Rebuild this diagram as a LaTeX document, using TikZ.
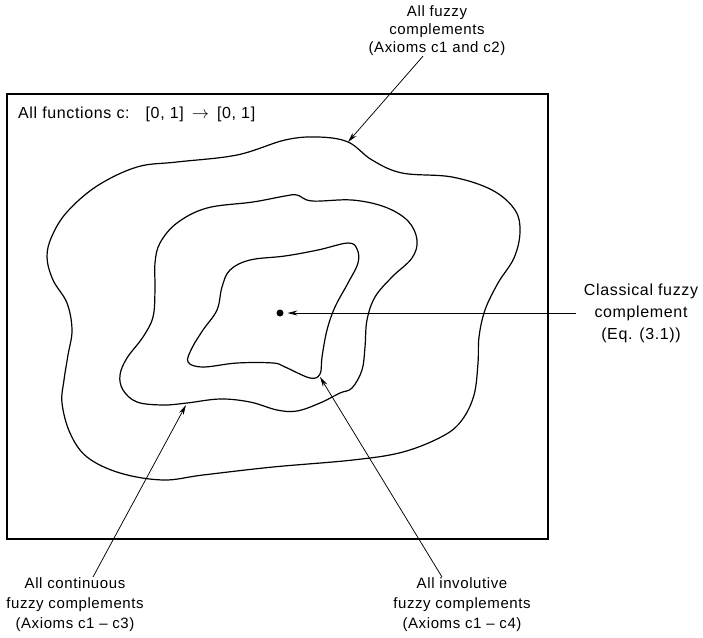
\documentclass[tikz,border=0pt]{standalone}
\usepackage{fontspec}
\setmainfont{Liberation Sans}[LetterSpace=4]
\usetikzlibrary{arrows.meta}

\begin{document}
\begin{tikzpicture}[x=1pt, y=-1pt,
		contour/.style={line width=1.2pt},
		pointer/.style={-{Stealth[length=10pt, width=5pt]}, line width=0.75pt},
		tag/.style={align=center, inner sep=0pt, font=\fontsize{15}{20}\selectfont}]
		\useasboundingbox (0,0) rectangle (703,637);
		
		% Ramka: wszystkie funkcje
		\draw[line width=1.1pt] (7,94) rectangle (548,539);
		\node[tag, anchor=west, font=\fontsize{16}{20}\selectfont] (functions) at (18,114) {All functions c:\quad[0, 1]\enspace$\rightarrow$\enspace[0, 1]};
		
		% Kontur zewnetrzny (c1, c2)
		\draw[contour] plot[smooth cycle, tension=0.6] coordinates {
			(137,167) (177,162) (237,155) (285,140) (318,137) (348,142) (372,160)
			(402,173) (452,177) (492,190) (515,210) (520,232) (514,258) (498,283)
			(485,310) (479,337) (478,363) (474,395) (462,420) (443,436) (403,452)
			(353,460) (273,467) (203,475) (163,480) (120,473) (87,457) (70,433)
			(62,403) (64,380) (68,355) (72,330) (67,303) (53,280) (47,257)
			(52,236) (67,212) (97,186)};
		
		% Kontur srodkowy (c1 - c3)
		\draw[contour] plot[smooth cycle, tension=0.6] coordinates {
			(160,243) (177,223) (207,208) (253,202) (285,196) (297,195) (312,201)
			(352,200) (385,207) (408,221) (417,240) (412,258) (392,277) (375,297)
			(367,320) (365,347) (362,370) (352,388) (340,393) (320,403) (297,411)
			(277,410) (250,402) (220,399) (187,403) (163,405) (137,402) (123,390)
			(120,375) (127,358) (143,337) (153,317) (155,290) (155,263)};
		
		% Kontur wewnetrzny (c1 - c4)
		\draw[contour] plot[smooth cycle, tension=0.6] coordinates {
			(230,270) (250,260) (285,256) (318,250) (348,243) (357,249) (358,263)
			(348,283) (335,307) (327,330) (322,357) (320,374) (310,378) (285,367)
			(273,363) (237,363) (203,367) (188,362) (192,348) (203,330) (217,310)
			(222,287)};
		
		% Punkty docelowe strzalek
		\coordinate (outertip) at (348,142);
		\coordinate (middletip) at (186,405);
		\coordinate (innertip) at (320,377);
		\node[circle, fill, inner sep=0pt, minimum size=7pt, outer sep=4pt] (classic) at (280,313) {};
		
		% Etykiety
		\node[tag, font=\fontsize{15}{18}\selectfont] (allfuzzy) at (437,31) {All fuzzy\\complements\\(Axioms c1 and c2)};
		\node[tag, font=\fontsize{16}{22}\selectfont] (classical) at (641,313) {Classical fuzzy\\complement\\(Eq. (3.1))};
		\node[tag, anchor=north] (continuous) at (75,577) {All continuous\\fuzzy complements\\(Axioms c1 -- c3)};
		\node[tag, anchor=north] (involutive) at (462,577) {All involutive\\fuzzy complements\\(Axioms c1 -- c4)};
		
		% Strzalki
		\draw[pointer] ([xshift=-14pt]allfuzzy.south) -- (outertip);
		\draw[pointer] ([xshift=-8pt]classical.west) -- (classic.east |- classical.west);
		\draw[pointer] ([xshift=18pt]continuous.north) -- (middletip);
		\draw[pointer] ([xshift=-20pt]involutive.north) -- (innertip);
		
	\end{tikzpicture}
\end{document}
